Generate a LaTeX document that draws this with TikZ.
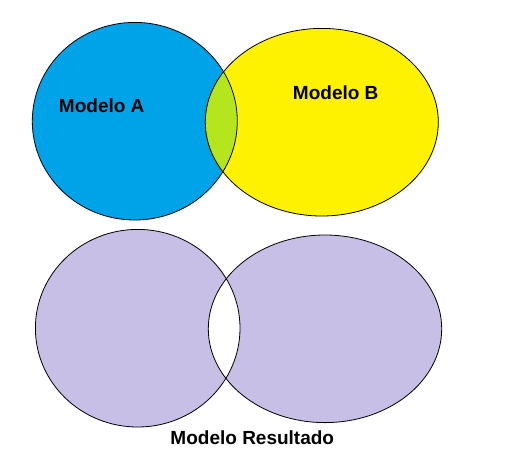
\documentclass[tikz,border=0pt]{standalone}
\usepackage{fontspec}
\setmainfont{Liberation Sans}
\definecolor{mblue}{RGB}{0,162,232}
\definecolor{myellow}{RGB}{255,242,0}
\definecolor{mgreen}{RGB}{181,230,29}
\definecolor{mpurple}{RGB}{200,191,231}
\begin{document}
\begin{tikzpicture}[x=1pt,y=-1pt,
  outline/.style={draw=black,line width=0.8pt},
  lbl/.style={font=\fontsize{19}{22}\selectfont\bfseries,anchor=base,inner sep=0pt}]
\useasboundingbox[fill=white] (0,0) rectangle (505,455);
% top
\fill[mblue] (134.8,121.2) ellipse [x radius=102.5,y radius=98.8];
\fill[myellow] (321.8,122.2) ellipse [x radius=116.5,y radius=93.8];
\begin{scope}
\clip (134.8,121.2) ellipse [x radius=102.5,y radius=98.8];
\fill[mgreen] (321.8,122.2) ellipse [x radius=116.5,y radius=93.8];
\end{scope}
\draw[outline] (134.8,121.2) ellipse [x radius=102.5,y radius=98.8];
\draw[outline] (321.8,122.2) ellipse [x radius=116.5,y radius=93.8];
% bottom
\fill[mpurple] (137.7,328.2) ellipse [x radius=102.3,y radius=98.8];
\fill[mpurple] (325,328.8) ellipse [x radius=116.7,y radius=93.8];
\begin{scope}
\clip (137.7,328.2) ellipse [x radius=102.3,y radius=98.8];
\fill[white] (325,328.8) ellipse [x radius=116.7,y radius=93.8];
\end{scope}
\draw[outline] (137.7,328.2) ellipse [x radius=102.3,y radius=98.8];
\draw[outline] (325,328.8) ellipse [x radius=116.7,y radius=93.8];
% labels
\node[lbl] (ma) at (101.7,112.7) {Modelo A};
\node[lbl] (mb) at (335.7,99) {Modelo B};
\node[lbl] (mr) at (252.3,444.3) {Modelo Resultado};
\end{tikzpicture}
\end{document}
